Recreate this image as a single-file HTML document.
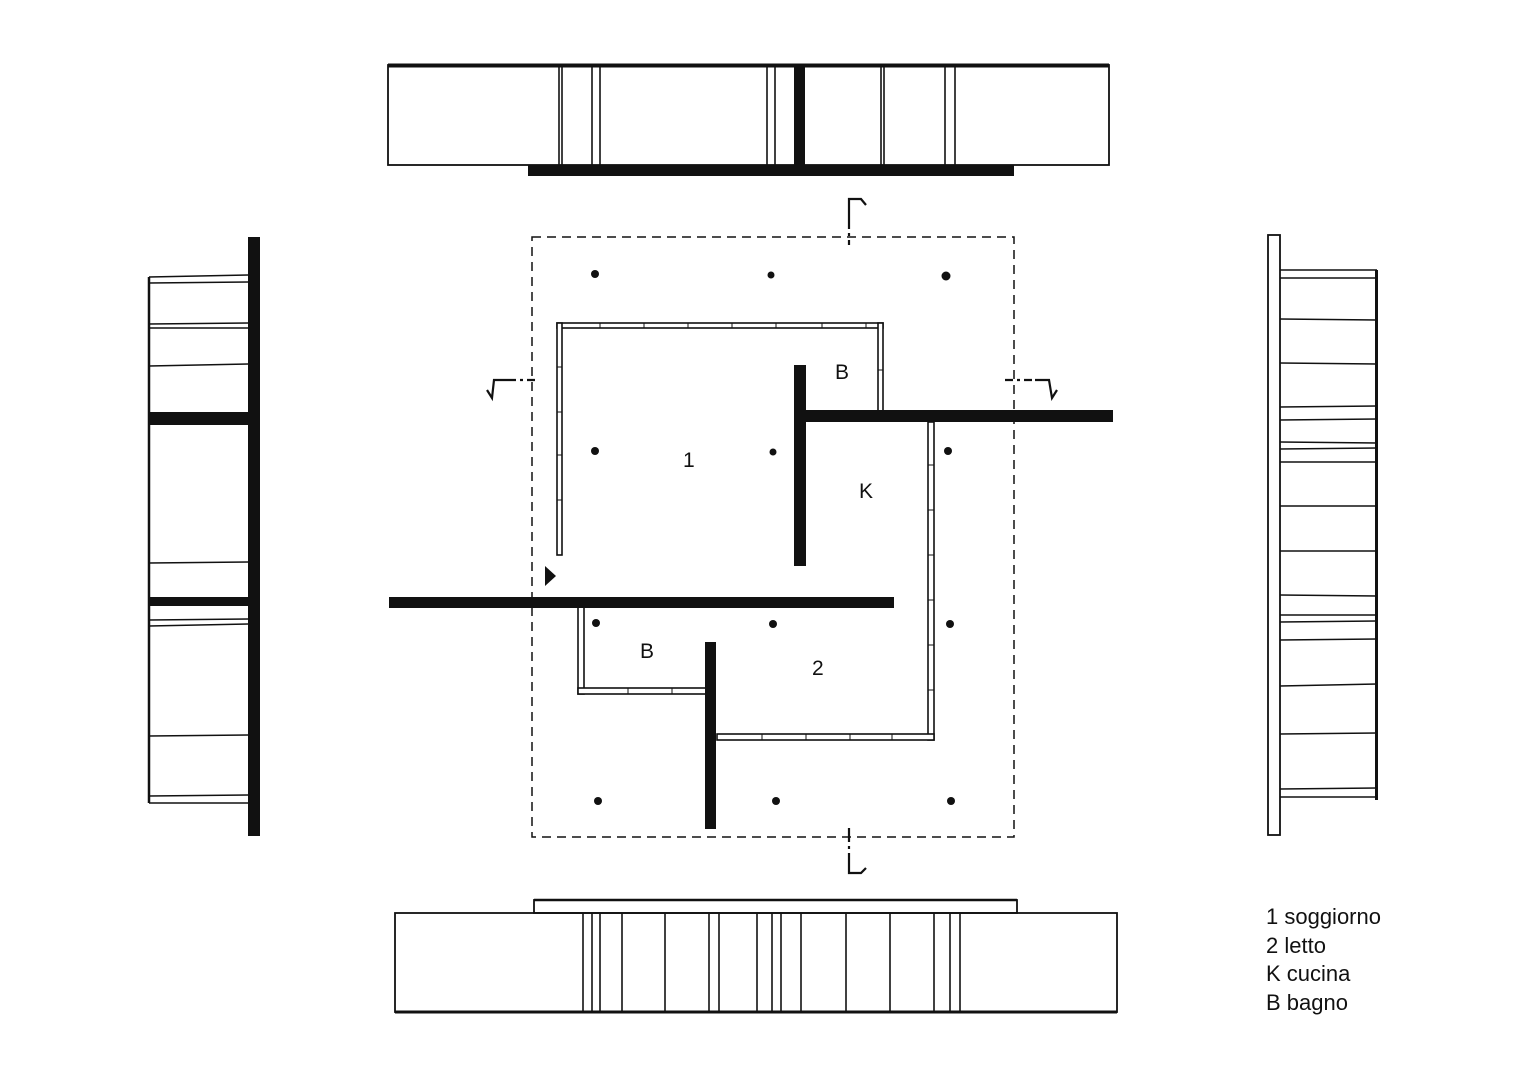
<!DOCTYPE html>
<html><head><meta charset="utf-8"><style>
html,body{margin:0;padding:0;background:#fff}
svg{display:block}
text{font-family:"Liberation Sans",Arial,sans-serif;fill:#111}
</style></head><body>
<svg width="1527" height="1080" viewBox="0 0 1527 1080" xmlns="http://www.w3.org/2000/svg">
<rect width="1527" height="1080" fill="#fff"/>
<g stroke="#111" fill="none">
<!-- TOP ELEVATION -->
<rect x="388" y="65" width="721" height="100" stroke-width="1.8"/>
<line x1="388" y1="65.5" x2="1109" y2="65.5" stroke-width="4"/>
<rect x="528" y="165" width="486" height="11" fill="#111" stroke="none"/>
<rect x="794" y="66" width="11" height="100" fill="#111" stroke="none"/>
<g stroke-width="1.6">
<line x1="559" y1="66" x2="559" y2="165"/><line x1="562" y1="66" x2="562" y2="165"/>
<line x1="592" y1="66" x2="592" y2="165"/><line x1="600" y1="66" x2="600" y2="165"/>
<line x1="767" y1="66" x2="767" y2="165"/><line x1="775" y1="66" x2="775" y2="165"/>
<line x1="881" y1="66" x2="881" y2="165"/><line x1="884" y1="66" x2="884" y2="165"/>
<line x1="945" y1="66" x2="945" y2="165"/><line x1="955" y1="66" x2="955" y2="165"/>
</g>
<!-- BOTTOM ELEVATION -->
<rect x="534" y="900" width="483" height="13" stroke-width="1.8"/>
<line x1="534" y1="900" x2="1017" y2="900" stroke-width="2.5"/>
<rect x="395" y="913" width="722" height="99" stroke-width="1.8"/>
<line x1="395" y1="1012" x2="1117" y2="1012" stroke-width="3"/>
<g stroke-width="1.6">
<line x1="583" y1="913" x2="583" y2="1012"/><line x1="592" y1="913" x2="592" y2="1012"/>
<line x1="600" y1="913" x2="600" y2="1012"/><line x1="622" y1="913" x2="622" y2="1012"/>
<line x1="665" y1="913" x2="665" y2="1012"/><line x1="709" y1="913" x2="709" y2="1012"/>
<line x1="719" y1="913" x2="719" y2="1012"/><line x1="757" y1="913" x2="757" y2="1012"/>
<line x1="772" y1="913" x2="772" y2="1012"/><line x1="781" y1="913" x2="781" y2="1012"/>
<line x1="801" y1="913" x2="801" y2="1012"/><line x1="846" y1="913" x2="846" y2="1012"/>
<line x1="890" y1="913" x2="890" y2="1012"/><line x1="934" y1="913" x2="934" y2="1012"/>
<line x1="950" y1="913" x2="950" y2="1012"/><line x1="960" y1="913" x2="960" y2="1012"/>
</g>
<!-- LEFT ELEVATION -->
<rect x="248" y="237" width="12" height="599" fill="#111" stroke="none"/>
<line x1="149" y1="277" x2="149" y2="803" stroke-width="2.5"/>
<g stroke-width="1.6">
<line x1="149" y1="277" x2="248" y2="275"/><line x1="149" y1="283" x2="248" y2="282"/>
<line x1="149" y1="324" x2="248" y2="323"/><line x1="149" y1="328" x2="248" y2="328"/>
<line x1="149" y1="366" x2="248" y2="364"/>
<line x1="149" y1="563" x2="248" y2="562"/>
<line x1="149" y1="620" x2="248" y2="619"/><line x1="149" y1="626" x2="248" y2="624"/>
<line x1="149" y1="736" x2="248" y2="735"/>
<line x1="149" y1="796" x2="248" y2="795"/><line x1="149" y1="803" x2="248" y2="803"/>
</g>
<rect x="149" y="412" width="100" height="13" fill="#111" stroke="none"/>
<rect x="149" y="597" width="100" height="9" fill="#111" stroke="none"/>
<!-- RIGHT ELEVATION -->
<rect x="1268" y="235" width="12" height="600" stroke-width="1.8"/>
<line x1="1376.5" y1="270" x2="1376.5" y2="800" stroke-width="3"/>
<g stroke-width="1.6">
<line x1="1280" y1="270" x2="1377" y2="270"/><line x1="1280" y1="278" x2="1377" y2="278"/>
<line x1="1280" y1="319" x2="1377" y2="320"/><line x1="1280" y1="363" x2="1377" y2="364"/>
<line x1="1280" y1="407" x2="1377" y2="406"/><line x1="1280" y1="420" x2="1377" y2="419"/>
<line x1="1280" y1="442" x2="1377" y2="443"/><line x1="1280" y1="449" x2="1377" y2="448"/>
<line x1="1280" y1="462" x2="1377" y2="462"/><line x1="1280" y1="506" x2="1377" y2="506"/>
<line x1="1280" y1="551" x2="1377" y2="551"/><line x1="1280" y1="595" x2="1377" y2="596"/>
<line x1="1280" y1="615" x2="1377" y2="615"/><line x1="1280" y1="622" x2="1377" y2="621"/>
<line x1="1280" y1="640" x2="1377" y2="639"/><line x1="1280" y1="686" x2="1377" y2="684"/>
<line x1="1280" y1="734" x2="1377" y2="733"/><line x1="1280" y1="789" x2="1377" y2="788"/>
<line x1="1280" y1="797" x2="1377" y2="797"/>
</g>
<!-- PLAN dashed outline -->
<rect x="532" y="237" width="482" height="600" stroke-width="1.5" stroke-dasharray="9,6"/>
<!-- section markers -->
<g stroke-width="2.2">
<line x1="849" y1="215" x2="849" y2="245" stroke-dasharray="14,4,3,4"/>
<polyline points="849,215 849,199 861,199 866,205"/>
<line x1="849" y1="828" x2="849" y2="858" stroke-dasharray="14,4,3,4"/>
<polyline points="849,858 849,873 861,873 866,868"/>
<line x1="508" y1="380" x2="538" y2="380" stroke-dasharray="8,4,3,4"/>
<polyline points="487,390 492,398 494,380 508,380"/>
<line x1="1005" y1="380" x2="1035" y2="380" stroke-dasharray="8,4,3,4"/>
<polyline points="1035,380 1049,380 1052,398 1057,390"/>
</g>
<!-- glass walls -->
<g stroke-width="1.6" fill="#fff">
<rect x="557" y="323" width="326" height="5"/>
<rect x="557" y="323" width="5" height="232"/>
<rect x="878" y="323" width="5" height="88"/>
<rect x="928" y="422" width="6" height="318"/>
<rect x="717" y="734" width="217" height="6"/>
<rect x="578" y="607" width="6" height="87"/>
<rect x="578" y="688" width="129" height="6"/>
</g>
<g stroke-width="1">
<line x1="600" y1="323" x2="600" y2="328"/><line x1="644" y1="323" x2="644" y2="328"/>
<line x1="688" y1="323" x2="688" y2="328"/><line x1="732" y1="323" x2="732" y2="328"/>
<line x1="776" y1="323" x2="776" y2="328"/><line x1="822" y1="323" x2="822" y2="328"/>
<line x1="866" y1="323" x2="866" y2="328"/>
<line x1="557" y1="367" x2="562" y2="367"/><line x1="557" y1="412" x2="562" y2="412"/>
<line x1="557" y1="455" x2="562" y2="455"/><line x1="557" y1="500" x2="562" y2="500"/>
<line x1="878" y1="370" x2="883" y2="370"/>
<line x1="928" y1="465" x2="934" y2="465"/><line x1="928" y1="510" x2="934" y2="510"/>
<line x1="928" y1="555" x2="934" y2="555"/><line x1="928" y1="600" x2="934" y2="600"/>
<line x1="928" y1="645" x2="934" y2="645"/><line x1="928" y1="690" x2="934" y2="690"/>
<line x1="762" y1="734" x2="762" y2="740"/><line x1="806" y1="734" x2="806" y2="740"/>
<line x1="850" y1="734" x2="850" y2="740"/><line x1="892" y1="734" x2="892" y2="740"/>
<line x1="628" y1="688" x2="628" y2="694"/><line x1="672" y1="688" x2="672" y2="694"/>
</g>
</g>
<!-- solid walls -->
<g fill="#111">
<rect x="794" y="365" width="12" height="201"/>
<rect x="806" y="410" width="307" height="12"/>
<rect x="389" y="597" width="505" height="11"/>
<rect x="705" y="642" width="11" height="187"/>
<polygon points="545,566 556,576 545,586"/>
<circle cx="595" cy="274" r="4"/><circle cx="771" cy="275" r="3.5"/><circle cx="946" cy="276" r="4.5"/>
<circle cx="595" cy="451" r="4"/><circle cx="773" cy="452" r="3.5"/><circle cx="948" cy="451" r="4"/>
<circle cx="596" cy="623" r="4"/><circle cx="773" cy="624" r="4"/><circle cx="950" cy="624" r="4"/>
<circle cx="598" cy="801" r="4"/><circle cx="776" cy="801" r="4"/><circle cx="951" cy="801" r="4"/>
</g>
<g font-size="21">
<text x="835" y="379">B</text>
<text x="683" y="467">1</text>
<text x="859" y="498">K</text>
<text x="640" y="658">B</text>
<text x="812" y="675">2</text>
</g>
<g font-size="22">
<text x="1266" y="924">1 soggiorno</text>
<text x="1266" y="953">2 letto</text>
<text x="1266" y="981">K cucina</text>
<text x="1266" y="1010">B bagno</text>
</g>
</svg>
</body></html>
